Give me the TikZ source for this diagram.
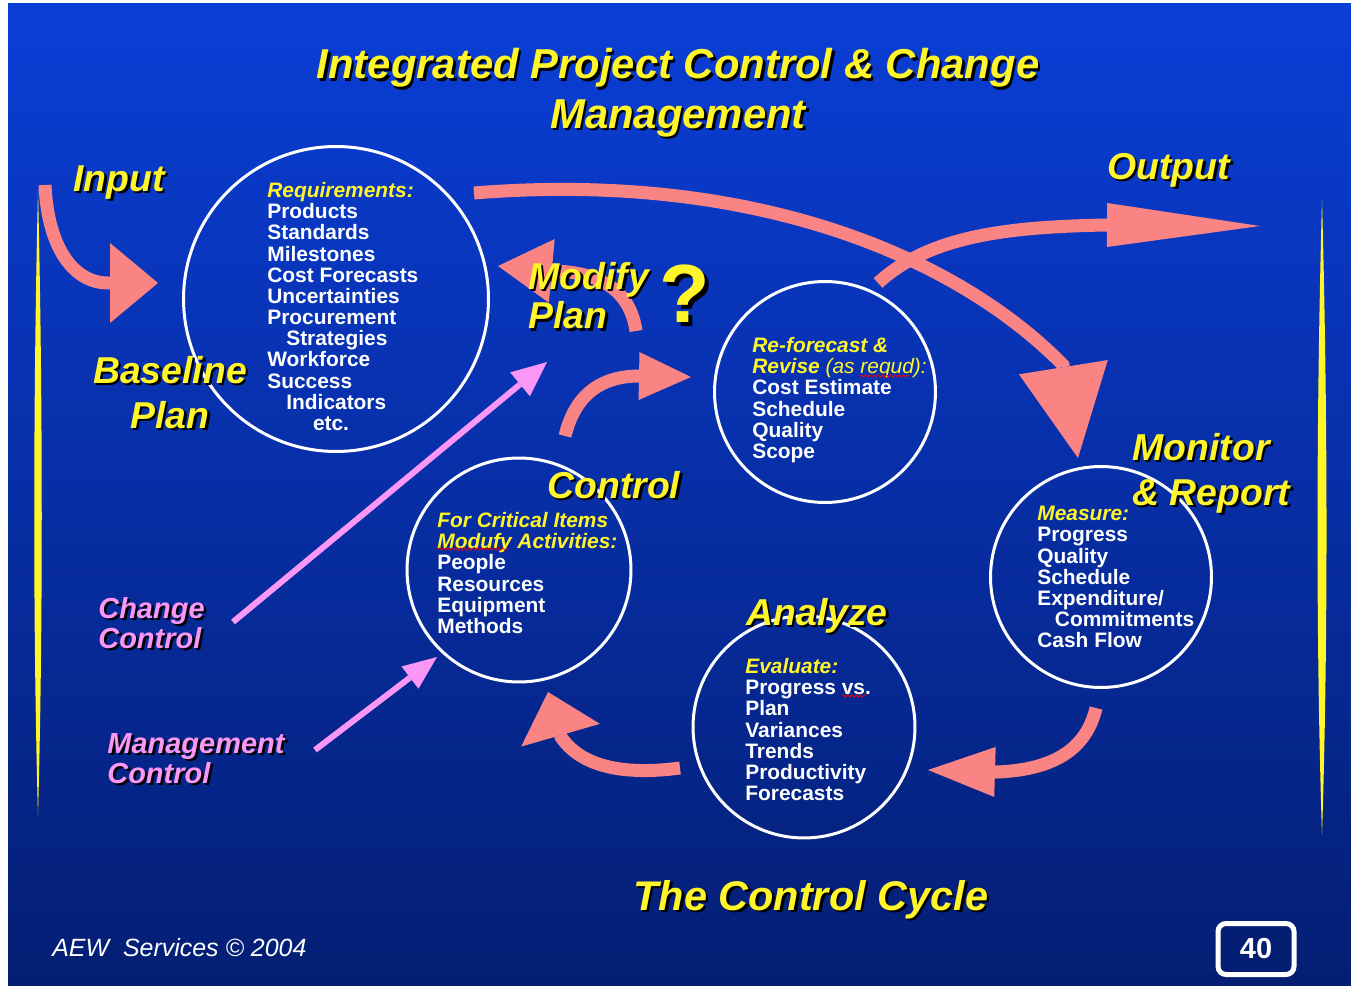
\documentclass[tikz,border=0pt]{standalone}
\usepackage{fontspec}
\setmainfont{Liberation Sans}
\usetikzlibrary{arrows.meta,decorations.pathmorphing}

\definecolor{slidetop}{RGB}{10,62,215}
\definecolor{slidebot}{RGB}{4,30,115}
\definecolor{salmon}{RGB}{250,132,132}
\definecolor{orchid}{RGB}{250,150,245}
\definecolor{lemon}{RGB}{255,245,40}

\tikzset{
  ring/.style={circle, draw=white, line width=0.06cm, inner sep=0pt},
  body/.style={text=white, font=\fontsize{11.9}{12.05}\selectfont\bfseries,
    align=left, anchor=north west, inner sep=0pt},
  tag/.style={text=lemon, font=\fontsize{21.3}{25.5}\selectfont\bfseries\itshape,
    align=left, anchor=north west, inner sep=0pt},
  pinktag/.style={tag, text=orchid, font=\fontsize{16.5}{17}\selectfont\bfseries\itshape},
  bigarrow/.style 2 args={draw=salmon, line width=0.26cm,
    -{Triangle[length=#1, width=#2, line width=0pt]}},
  thinarrow/.style 2 args={draw=orchid, line width=0.12cm,
    -{Triangle[length=#1, width=#2, line width=0pt]}},
  spell/.style={draw=red, line width=0.4pt, decorate,
    decoration={snake, amplitude=0.7pt, segment length=2.4pt}}
}

% text with a black drop shadow: name, position, style, text
\newcommand{\dropnode}[4]{%
  \node[#3, text=black] at ([shift={(2.5,2.5)}]#2) {#4};
  \node[#3] (#1) at (#2) {#4};}

\begin{document}
\begin{tikzpicture}[x=0.02cm, y=-0.02cm]
  \useasboundingbox (0,0) rectangle (1351,986);

  % Slide background
  \fill[white] (0,0) rectangle (1351,986);
  \shade[top color=slidetop, bottom color=slidebot] (8,4) rectangle (1351,986);

  % Yellow side bars
  \fill[lemon] (38,190) .. controls (43,400) and (43,640) .. (38,815)
               .. controls (33,640) and (33,400) .. (38,190) -- cycle;
  \fill[lemon] (1322,200) .. controls (1328,420) and (1328,650) .. (1322,835)
               .. controls (1316,650) and (1316,420) .. (1322,200) -- cycle;

  % Circles of the cycle
  \node[ring, minimum size=6.1cm]  (baseline) at (336,299) {};
  \node[ring, minimum size=4.42cm] (reforecast) at (825,392) {};
  \node[ring, minimum size=4.48cm] (control) at (519,570) {};
  \node[ring, minimum size=4.42cm] (monitor) at (1101,577) {};
  \node[ring, minimum size=4.44cm] (analyze) at (804,727) {};

  % Arrow end points
  \coordinate (inStart) at (45,185);   \coordinate (inBase) at (108,283);   \coordinate (inTip) at (158,283);
  \coordinate (arcStart) at (474,193); \coordinate (arcBase) at (1063,365); \coordinate (arcTip) at (1078,458);
  \coordinate (outStart) at (878,283); \coordinate (outBase) at (1105,225); \coordinate (outTip) at (1260,226);
  \coordinate (modStart) at (636,331); \coordinate (modBase) at (553,271);  \coordinate (modTip) at (498,266);
  \coordinate (ctlStart) at (565,436); \coordinate (ctlBase) at (637,376);  \coordinate (ctlTip) at (691,377);
  \coordinate (monStart) at (1096,708); \coordinate (monBase) at (997,772); \coordinate (monTip) at (928,770);
  \coordinate (anlStart) at (680,768); \coordinate (anlBase) at (561,737);  \coordinate (anlTip) at (548,692);
  \coordinate (chgStart) at (233,622); \coordinate (chgTip) at (547,362);
  \coordinate (mgtStart) at (315,750); \coordinate (mgtTip) at (437,657);

  % Salmon flow arrows
  \draw[bigarrow={0.96cm}{1.6cm}] (inStart) .. controls (48,250) and (75,283) .. (inBase) -- (inTip);
  \draw[bigarrow={1.84cm}{1.8cm}] (arcStart) .. controls (760,170) and (960,260) .. (arcBase) -- (arcTip);
  \draw[bigarrow={3.06cm}{0.88cm}] (outStart) .. controls (930,235) and (1010,227) .. (outBase) -- (outTip);
  \draw[bigarrow={1.08cm}{1.28cm}] (modStart) .. controls (630,290) and (600,272) .. (modBase) -- (modTip);
  \draw[bigarrow={1.04cm}{0.96cm}] (ctlStart) .. controls (575,395) and (600,377) .. (ctlBase) -- (ctlTip);
  \draw[bigarrow={1.34cm}{1.0cm}] (monStart) .. controls (1085,755) and (1045,770) .. (monBase) -- (monTip);
  \draw[bigarrow={0.9cm}{1.64cm}] (anlStart) .. controls (620,776) and (580,765) .. (anlBase) -- (anlTip);

  % Orchid control arrows
  \draw[thinarrow={0.7cm}{0.62cm}] (chgStart) -- (chgTip);
  \draw[thinarrow={0.68cm}{0.56cm}] (mgtStart) -- (mgtTip);

  % Circle contents
  \node[body] (reqtxt) at (267,182) {\textcolor{lemon}{\itshape Requirements:}\\
    Products\\ Standards\\ Milestones\\ Cost Forecasts\\ Uncertainties\\ Procurement\\
    \hspace*{10.8pt}Strategies\\ Workforce\\ Success\\ \hspace*{10.8pt}Indicators\\
    \hspace*{26pt}etc.};
  \node[body] (revtxt) at (752,337) {\textcolor{lemon}{\itshape Re-forecast \&}\\
    \textcolor{lemon}{\itshape Revise {\mdseries (as requd):}}\\
    Cost Estimate\\ Schedule\\ Quality\\ Scope};
  \node[body] (ctltxt) at (437,512) {\textcolor{lemon}{\itshape For Critical Items}\\
    \textcolor{lemon}{\itshape Modufy Activities:}\\
    People\\ Resources\\ Equipment\\ Methods};
  \node[body] (montxt) at (1037,506) {\textcolor{lemon}{\itshape Measure:}\\
    Progress\\ Quality\\ Schedule\\ Expenditure/\\ \hspace*{10pt}Commitments\\ Cash Flow};
  \node[body] (anltxt) at (745,658) {\textcolor{lemon}{\itshape Evaluate:}\\
    Progress vs.\\ Plan\\ Variances\\ Trends\\ Productivity\\ Forecasts};

  % Spelling marks
  \draw[spell] (860,376) -- (910,376);
  \draw[spell] (438,549) -- (508,549);
  \draw[spell] (842,696) -- (866,696);

  % Titles and stage labels
  \dropnode{title}{678,48}{tag, anchor=north, align=center,
    font=\fontsize{23.8}{28.3}\selectfont\bfseries\itshape}{Integrated Project Control \& Change\\ Management}
  \dropnode{input}{73,165}{tag}{Input}
  \dropnode{output}{1107,153}{tag}{Output}
  \dropnode{baselinelbl}{170,356}{tag, anchor=north, align=center}{Baseline\\ Plan}
  \dropnode{modify}{528,262}{tag, font=\fontsize{21.3}{22.4}\selectfont\bfseries\itshape}{Modify\\ Plan}
  \node[tag, anchor=base, text=black, font=\fontsize{47}{47}\selectfont\bfseries] at (689,326) {?};
  \node[tag, anchor=base, font=\fontsize{47}{47}\selectfont\bfseries] (qmark) at (685,322) {?};
  \dropnode{controllbl}{547,471}{tag}{Control}
  \dropnode{monitorlbl}{1132,433}{tag}{Monitor\\ \& Report}
  \dropnode{analyzelbl}{746,598}{tag}{Analyze}
  \dropnode{cycle}{633,880}{tag, font=\fontsize{23.6}{28}\selectfont\bfseries\itshape}{The Control Cycle}
  \dropnode{change}{98,597}{pinktag}{Change\\ Control}
  \dropnode{mgmt}{107,733}{pinktag}{Management\\ Control}

  % Footer
  \node[anchor=north west, inner sep=0pt, text=white,
    font=\fontsize{14.2}{16}\selectfont\itshape] (credit) at (52,938) {AEW\ \ Services \textcopyright{} 2004};
  \node[draw=white, line width=0.1cm, rounded corners=0.16cm, fill=slidebot,
    minimum width=1.52cm, minimum height=1.02cm, text=white,
    font=\fontsize{16.5}{18}\selectfont\bfseries] (pagenum) at (1256,949) {40};

\end{tikzpicture}
\end{document}
